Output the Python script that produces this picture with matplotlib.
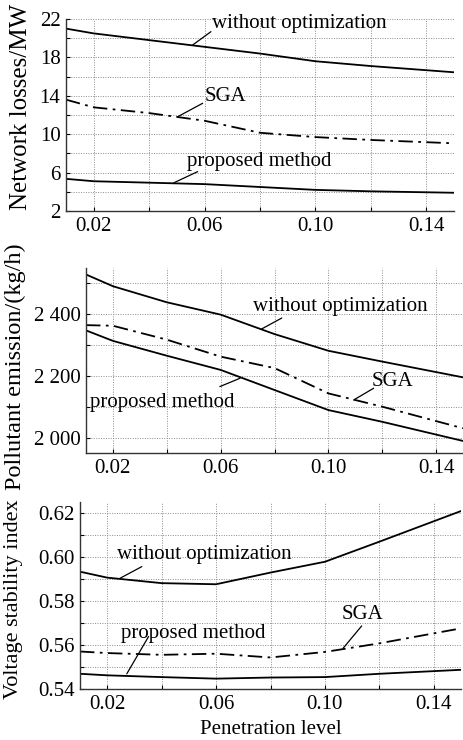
import matplotlib
matplotlib.use("Agg")
import matplotlib.pyplot as plt
import numpy as np

plt.rcParams['font.family'] = ['Liberation Serif', 'DejaVu Serif']
plt.rcParams['mathtext.fontset'] = 'stix'

# ---------------- data ----------------
pen = [0.01, 0.02, 0.04, 0.06, 0.08, 0.10, 0.12, 0.15]

loss_without = [21.0, 20.5, 19.8, 19.1, 18.4, 17.6, 17.1, 16.45]
loss_sga     = [13.6, 12.8, 12.2, 11.4, 10.15, 9.7, 9.4, 9.05]
loss_prop    = [5.35, 5.1, 4.95, 4.8, 4.5, 4.2, 4.05, 3.9]

emis_without = [2529, 2491, 2439, 2399, 2336, 2282, 2247, 2196]
emis_sga     = [2365, 2363, 2318, 2263, 2226, 2144, 2101, 2031]
emis_prop    = [2348, 2314, 2266, 2220, 2155, 2090, 2052, 1990]

vsi_without = [0.5932, 0.5905, 0.588, 0.5875, 0.5928, 0.5977, 0.6068, 0.6207]
vsi_sga     = [0.557, 0.5563, 0.5555, 0.556, 0.5543, 0.5568, 0.5607, 0.5675]
vsi_prop    = [0.5469, 0.5462, 0.5454, 0.5447, 0.5452, 0.5454, 0.5469, 0.5487]

series_labels = ["without optimization", "SGA", "proposed method"]
xtick_vals = [0.02, 0.06, 0.10, 0.14]
xtick_labels = ["0.02", "0.06", "0.10", "0.14"]

fig = plt.figure(figsize=(4.63, 7.40), dpi=100)

FS = 15

def style_axes(ax, xlim, ylim, ygrid, ylabels_vals, ylabels_txt):
    ax.set_xlim(*xlim)
    ax.set_ylim(*ylim)
    for s in ['top', 'right']:
        ax.spines[s].set_visible(False)
    for s in ['left', 'bottom']:
        ax.spines[s].set_linewidth(1.0)
        ax.spines[s].set_color('#333333')
    ax.set_xticks(np.arange(0.02, 0.1501, 0.02), minor=True)
    ax.set_xticks(xtick_vals)
    ax.set_xticklabels(xtick_labels)
    ax.set_yticks(ygrid, minor=True)
    ax.set_yticks(ylabels_vals)
    ax.set_yticklabels(ylabels_txt)
    ax.tick_params(which='both', direction='in', length=3, width=0.8,
                   labelsize=FS, pad=4)
    ax.grid(True, which='both', linestyle=(0, (1, 1.5)), color='#8c8c8c', lw=0.7)
    ax.set_axisbelow(True)

def plot_lines(ax, ys):
    ax.plot(pen, ys[0], color='black', lw=1.3)
    ax.plot(pen, ys[1], color='black', lw=1.3, linestyle=(0, (8, 3, 1.5, 3)))
    ax.plot(pen, ys[2], color='black', lw=1.3)

def label(ax, text, tpos, p0, p1):
    ax.text(tpos[0], tpos[1], text, fontsize=FS, ha='center', va='center')
    ax.annotate('', xy=p0, xytext=p1,
                arrowprops=dict(arrowstyle='-', lw=0.9, color='black',
                                shrinkA=0, shrinkB=0))

# ---------- panel 1 ----------
ax1 = fig.add_axes([66/463, 1-211/740, (454-66)/463, (211-19)/740])
plot_lines(ax1, [loss_without, loss_sga, loss_prop])
style_axes(ax1, (0.01, 0.15), (2, 22), np.arange(2, 22.1, 2),
           [2, 6, 10, 14, 18, 22], ["2", "6", "10", "14", "18", "22"])
ax1.set_ylabel("Network losses/MW", fontsize=18)
ax1.yaxis.set_label_coords(-0.088, 0.54)
label(ax1, series_labels[0], (0.0941, 21.55), (0.0557, 19.29), (0.0623, 20.68))
label(ax1, series_labels[1], (0.0677, 13.9), (0.0503, 11.82), (0.0593, 13.22))
label(ax1, series_labels[2], (0.0799, 7.14), (0.049, 4.95), (0.0575, 6.1))

# ---------- panel 2 ----------
ax2 = fig.add_axes([86/463, 1-453.3/740, (463-86)/463, (453.3-268)/740])
plot_lines(ax2, [emis_without, emis_sga, emis_prop])
style_axes(ax2, (0.01, 0.15), (1950, 2550), np.arange(2000, 2501, 100),
           [2000, 2200, 2400], ["2 000", "2 200", "2 400"])
ax2.set_ylabel("Pollutant emission/(kg/h)", fontsize=17.5)
ax2.yaxis.set_label_coords(-0.158, 0.468)
label(ax2, series_labels[0], (0.1046, 2426), (0.0752, 2352.5), (0.0827, 2388))
label(ax2, series_labels[1], (0.1237, 2182), (0.1094, 2122.6), (0.1168, 2160.6))
label(ax2, series_labels[2], (0.0383, 2115), (0.0597, 2166), (0.0672, 2193))

# ---------- panel 3 ----------
ax3 = fig.add_axes([80/463, 1-689/740, (461-80)/463, (689-502)/740])
plot_lines(ax3, [vsi_without, vsi_sga, vsi_prop])
style_axes(ax3, (0.01, 0.15), (0.54, 0.6248), np.arange(0.54, 0.6201, 0.01),
           [0.54, 0.56, 0.58, 0.60, 0.62], ["0.54", "0.56", "0.58", "0.60", "0.62"])
ax3.set_ylabel("Voltage stability index", fontsize=16)
ax3.yaxis.set_label_coords(-0.15, 0.48)
ax3.set_xlabel("Penetration level", fontsize=FS, labelpad=4.5)
label(ax3, series_labels[0], (0.0555, 0.6008), (0.0247, 0.5902), (0.0327, 0.5955))
label(ax3, series_labels[1], (0.1138, 0.5736), (0.1067, 0.5585), (0.1135, 0.5686))
label(ax3, series_labels[2], (0.0517, 0.5653), (0.0272, 0.5469), (0.0352, 0.5638))

fig.savefig("out.png", dpi=100)
